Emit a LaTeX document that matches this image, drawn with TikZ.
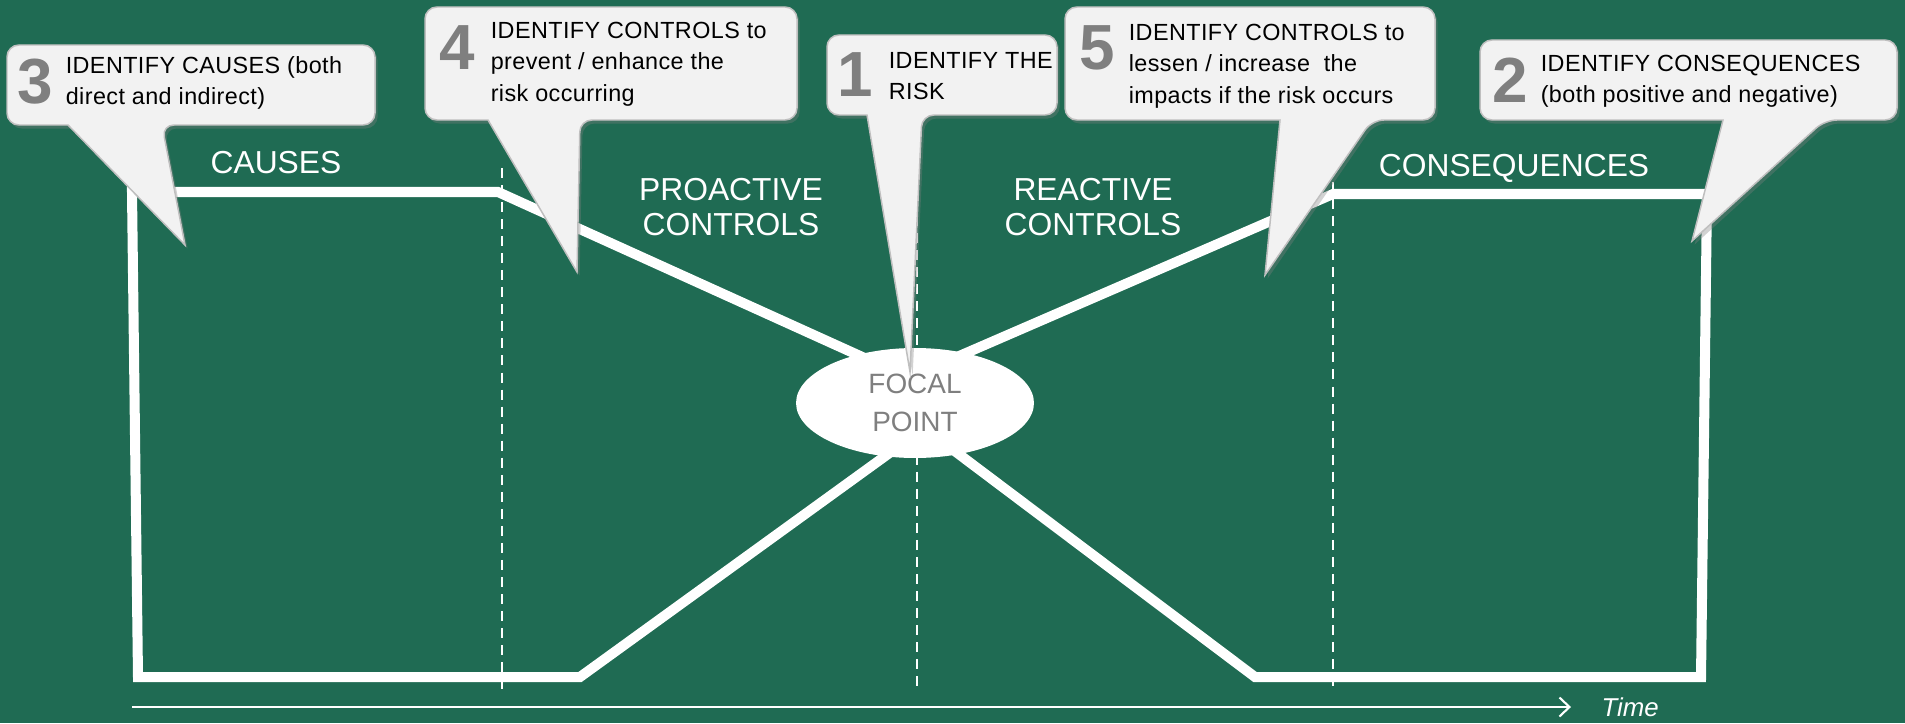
\documentclass[tikz,border=0pt]{standalone}
\usepackage{fontspec}
\setmainfont{Liberation Sans}
\newfontfamily\notefont[LetterSpace=1.8]{Liberation Sans}
\usetikzlibrary{positioning, arrows.meta, shapes, shadows}
\definecolor{riskgreen}{HTML}{1F6B53}
\definecolor{notefill}{HTML}{F2F2F2}
\definecolor{noteline}{HTML}{BFBFBF}
\definecolor{stepgray}{HTML}{7F7F7F}

% speech bubble: left, top, right, bottom, pointer base left, base right, tip
\newcommand{\bubble}[7]{%
  \path[bubble] (#1,#2) [rounded corners=6.8pt] -- (#3,#2) -- (#3,#4) -- (#6,#4)
    [sharp corners] -- (#7) -- (#5,#4) [rounded corners=6.8pt] -- (#1,#4) -- cycle;}

\begin{document}
\begin{tikzpicture}[x=0.02cm, y=-0.02cm, semithick,
    outline/.style={white, line width=5.7pt, line join=miter},
    divider/.style={white, line width=1.1pt, dash pattern=on 5.7pt off 4pt},
    zone/.style={text=white, font=\fontsize{18.1}{19.8}\selectfont, align=center, inner sep=0pt},
    bubble/.style={fill=notefill, draw=noteline, line width=0.85pt,
      drop shadow={shadow xshift=1.5pt, shadow yshift=-2pt, opacity=0.35}},
    stepno/.style={text=stepgray, font=\fontsize{36.3}{36.3}\selectfont\bfseries, inner sep=0pt, anchor=north},
    note/.style={text=black, font=\notefont\fontsize{13.3}{17.9}\selectfont, align=left, inner sep=0pt},
    focal/.style={ellipse, fill=white, minimum width=4.76cm, minimum height=2.2cm, inner sep=0pt,
      text=stepgray, font=\fontsize{15.9}{21.5}\selectfont, align=center},
    timeline/.style={white, line width=1.2pt, -{Straight Barb[length=5.7pt, width=10.8pt]}}]

  \path[use as bounding box, fill=riskgreen] (0,0) rectangle (1905,723);

  \draw[divider] (502,168) -- (502,693);
  \draw[divider] (917,182) -- (917,689);
  \draw[divider] (1333,182) -- (1333,689);

  \draw[outline] (880,365) -- (498,192) -- (132,192) -- (138,677) -- (580,677) -- (895,449);
  \draw[outline] (950,360) -- (1333,194) -- (1707,194) -- (1701,677) -- (1255,677) -- (940,440);

  \node[focal] (fp) at (915,403) {FOCAL\\POINT};

  \node[zone] (causes) at (276,163) {CAUSES};
  \node[zone] (pro) at (731,207) {PROACTIVE\\CONTROLS};
  \node[zone] (re) at (1093,207) {REACTIVE\\CONTROLS};
  \node[zone] (cons) at (1514,168) {CONSEQUENCES};

  \coordinate (t0) at (132,707);
  \coordinate (t1) at (1571,707);
  \draw[timeline] (t0) -- (t1);
  \node[text=white, font=\fontsize{14.7}{14.7}\selectfont\itshape, inner sep=0pt, right=0.6cm of t1] (time) {Time};

  \bubble{7}{45}{375}{125}{68}{162}{185,245}
  \bubble{425}{7}{797}{120}{488}{580}{577,272}
  \bubble{827}{35}{1057}{115}{867}{922}{910,372}
  \bubble{1065}{7}{1435}{120}{1280}{1372}{1265,275}
  \bubble{1480}{40}{1897}{120}{1723}{1825}{1692,241}

  \node[stepno] (n3) at (35,58) {3};
  \node[stepno] (n4) at (457,25) {4};
  \node[stepno] (n1) at (855,52) {1};
  \node[stepno] (n5) at (1097,25) {5};
  \node[stepno] (n2) at (1510,57) {2};

  \node[note, below right=-0.04cm and 0.24cm of n3.north east] (s3) {IDENTIFY CAUSES (both\\direct and indirect)};
  \node[note, below right=-0.07cm and 0.30cm of n4.north east] (s4) {IDENTIFY CONTROLS to\\prevent / enhance the\\risk occurring};
  \node[note, below right=-0.01cm and 0.30cm of n1.north east] (s1) {IDENTIFY THE\\RISK};
  \node[note, below right=-0.03cm and 0.26cm of n5.north east] (s5) {IDENTIFY CONTROLS to\\lessen / increase\ \ the\\impacts if the risk occurs};
  \node[note, below right=-0.05cm and 0.24cm of n2.north east] (s2) {IDENTIFY CONSEQUENCES\\(both positive and negative)};
\end{tikzpicture}
\end{document}
